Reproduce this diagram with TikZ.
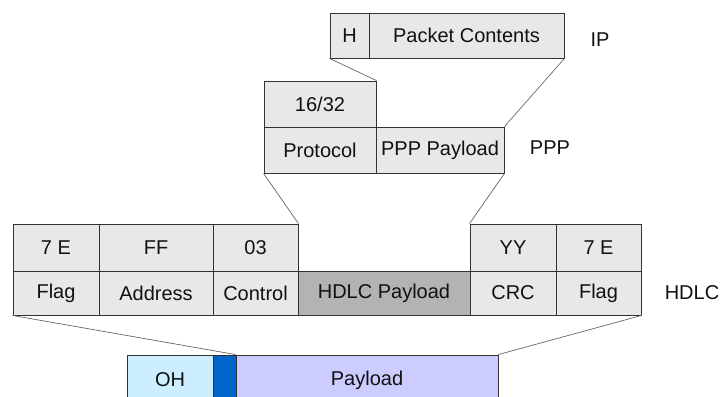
\documentclass[tikz,border=0pt]{standalone}
\usepackage{fontspec}
\setmainfont{Liberation Sans}
\definecolor{cellfill}{HTML}{E8E8E8}
\definecolor{payfill}{HTML}{B3B3B3}
\definecolor{edge}{HTML}{333333}
\definecolor{wire}{HTML}{666666}
\definecolor{ohfill}{HTML}{CCEEFF}
\definecolor{markfill}{HTML}{0066CC}
\definecolor{bodyfill}{HTML}{CCCCFF}
\definecolor{ink}{HTML}{111111}
\begin{document}
\begin{tikzpicture}[x=1pt,y=-1pt,
  every node/.style={font=\fontsize{20}{22}\selectfont, text=ink},
  cell/.style={draw=edge, line width=0.9pt, fill=cellfill, rectangle, inner sep=0pt},
  tag/.style={inner sep=0pt},
  wireline/.style={draw=wire, line width=0.7pt}]
\useasboundingbox (0,0) rectangle (722,396);
\clip (0,0) rectangle (722,396);

% IP packet
\node[cell, minimum width=39pt, minimum height=45pt] (iph) at (349.5,35.5) {H};
\node[cell, minimum width=195pt, minimum height=45pt] (ipc) at (466.5,35.5) {Packet Contents};
\node[tag] (iplab) at (600,40) {IP};

% PPP frame
\node[cell, minimum width=112pt, minimum height=46pt] (pnum) at (320,104) {16/32};
\node[cell, minimum width=112pt, minimum height=46pt] (pproto) at (320,150) {Protocol};
\node[cell, minimum width=128pt, minimum height=46pt] (ppay) at (440,150) {PPP Payload};
\node[tag] (ppplab) at (550,148) {PPP};

% HDLC frame, upper row (values)
\node[cell, minimum width=86pt, minimum height=47pt] (v1) at (56,247.5) {7 E};
\node[cell, minimum width=114pt, minimum height=47pt] (v2) at (156,247.5) {FF};
\node[cell, minimum width=85pt, minimum height=47pt] (v3) at (255.5,247.5) {03};
\node[cell, minimum width=86pt, minimum height=47pt] (v5) at (513,247.5) {YY};
\node[cell, minimum width=85pt, minimum height=47pt] (v6) at (598.5,247.5) {7 E};

% HDLC frame, lower row (field names)
\node[cell, minimum width=86pt, minimum height=44pt] (f1) at (56,293) {Flag};
\node[cell, minimum width=114pt, minimum height=44pt] (f2) at (156,293) {Address};
\node[cell, minimum width=85pt, minimum height=44pt] (f3) at (255.5,293) {Control};
\node[cell, fill=payfill, minimum width=172pt, minimum height=44pt] (f4) at (384,293) {HDLC Payload};
\node[cell, minimum width=86pt, minimum height=44pt] (f5) at (513,293) {CRC};
\node[cell, minimum width=85pt, minimum height=44pt] (f6) at (598.5,293) {Flag};
\node[tag] (hdlclab) at (692,293) {HDLC};

% Lower-layer container
\node[cell, fill=ohfill, minimum width=86pt, minimum height=50pt] (oh) at (170,380) {OH};
\node[cell, fill=markfill, minimum width=23pt, minimum height=50pt] (mk) at (224.5,380) {};
\node[cell, fill=bodyfill, minimum width=262pt, minimum height=50pt] (body) at (367,380) {Payload};

% Encapsulation lines
\draw[wireline] (iph.south west) -- (pnum.north east);
\draw[wireline] (ipc.south east) -- (ppay.north east);
\draw[wireline] (pproto.south west) -- (v3.north east);
\draw[wireline] (ppay.south east) -- (v5.north west);
\draw[wireline] (f1.south west) -- (body.north west);
\draw[wireline] (f6.south east) -- (body.north east);
\end{tikzpicture}
\end{document}
